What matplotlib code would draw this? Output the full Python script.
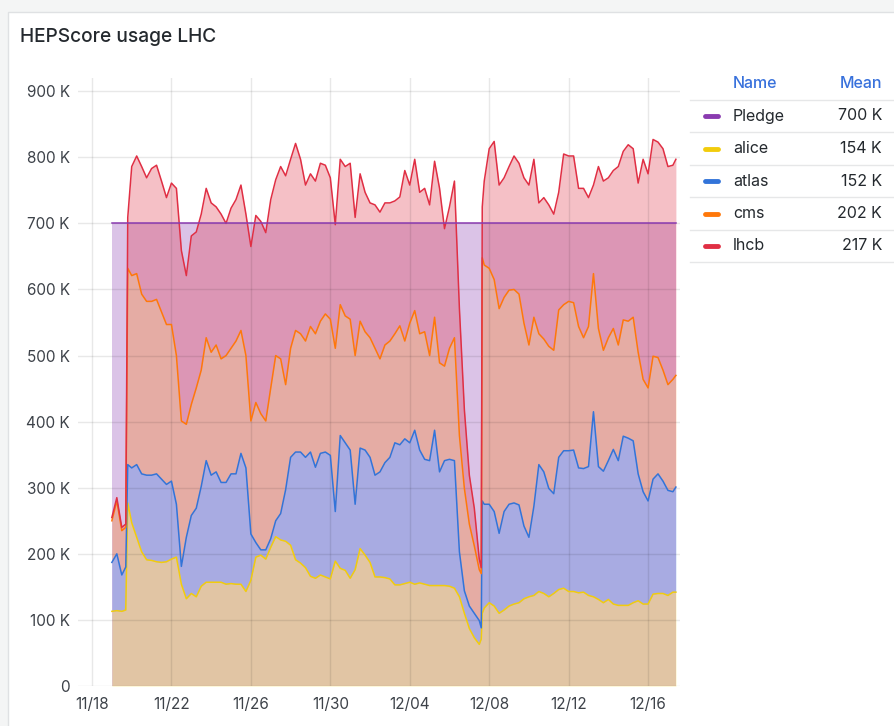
import matplotlib.pyplot as plt
import matplotlib.dates as mdates
import numpy as np
import pandas as pd
from matplotlib.lines import Line2D
from matplotlib.patches import Rectangle

plt.rcParams["font.family"] = ["Inter", "DejaVu Sans"]

W, H = 894, 726

# sample times, in days after 11/18 00:00
day_offset = [
    1.0, 1.25, 1.5, 1.7, 1.8, 2.0, 2.25, 2.5, 2.75, 3.0, 3.25, 3.5, 3.75,
    4.0, 4.25, 4.5, 4.75, 5.0, 5.25, 5.5, 5.75, 6.0, 6.25, 6.5, 6.75,
    7.0, 7.25, 7.5, 7.75, 8.0, 8.25, 8.5, 8.75, 9.0, 9.25, 9.5, 9.75,
    10.0, 10.25, 10.5, 10.75, 11.0, 11.25, 11.5, 11.75, 12.0, 12.25, 12.5, 12.75,
    13.0, 13.25, 13.5, 13.75, 14.0, 14.25, 14.5, 14.75, 15.0, 15.25, 15.5, 15.75,
    16.0, 16.25, 16.5, 16.75, 17.0, 17.25, 17.5, 17.75, 18.0, 18.25, 18.5, 18.75,
    19.0, 19.25, 19.5, 19.6, 19.65, 19.75, 20.0, 20.25, 20.5, 20.75,
    21.0, 21.25, 21.5, 21.75, 22.0, 22.25, 22.5, 22.75, 23.0, 23.25, 23.5, 23.75,
    24.0, 24.25, 24.5, 24.75, 25.0, 25.25, 25.5, 25.75, 26.0, 26.25, 26.5, 26.75,
    27.0, 27.25, 27.5, 27.75, 28.0, 28.25, 28.5, 28.75, 29.0, 29.25, 29.4,
]

# HEPScore per experiment, in thousands
alice = [
    113, 114, 113, 115, 277, 247, 225, 203, 191, 190, 188, 187, 188,
    192, 195, 154, 132, 140, 135, 151, 157, 157, 157, 157, 154,
    155, 154, 154, 143, 160, 195, 198, 192, 210, 226, 221, 219,
    213, 191, 186, 179, 166, 163, 168, 165, 162, 189, 178, 175,
    163, 176, 208, 198, 187, 165, 165, 164, 162, 153, 153, 155,
    157, 154, 156, 154, 152, 152, 152, 152, 151, 148, 135, 110,
    87, 73, 63, 71, 110, 118, 126, 121, 110, 115,
    121, 124, 126, 132, 135, 137, 143, 140, 135, 140, 146, 148,
    143, 143, 141, 142, 137, 135, 131, 126, 131, 124, 122, 122,
    122, 126, 129, 124, 124, 139, 140, 140, 137, 142, 142,
]
atlas = [
    74, 86, 55, 65, 58, 83, 110, 118, 128, 129, 133, 126, 117,
    118, 80, 27, 93, 118, 134, 151, 184, 162, 167, 151, 154,
    166, 167, 198, 187, 70, 22, 8, 14, 13, 24, 40, 78,
    133, 163, 168, 167, 188, 168, 184, 189, 187, 75, 201, 193,
    194, 99, 152, 159, 159, 154, 159, 174, 184, 215, 212, 219,
    211, 233, 201, 189, 189, 235, 172, 189, 192, 193, 68, 34,
    34, 37, 36, 17, 170, 157, 149, 143, 121, 149,
    154, 153, 148, 110, 90, 135, 192, 184, 164, 151, 200, 208,
    213, 214, 189, 187, 195, 280, 201, 199, 210, 234, 219, 256,
    253, 245, 192, 170, 156, 174, 181, 170, 159, 152, 159,
]
cms = [
    63, 80, 67, 60, 297, 291, 289, 272, 263, 263, 264, 253, 242,
    237, 225, 220, 171, 168, 182, 176, 186, 186, 192, 187, 192,
    190, 201, 186, 170, 171, 212, 206, 195, 228, 250, 234, 159,
    165, 184, 179, 176, 190, 202, 200, 209, 206, 247, 198, 192,
    198, 225, 192, 179, 181, 192, 171, 178, 176, 165, 180, 148,
    181, 181, 176, 193, 159, 171, 165, 143, 168, 186, 176, 155,
    124, 102, 77, 82, 368, 362, 357, 351, 340, 324,
    324, 323, 319, 307, 291, 286, 198, 201, 215, 217, 223, 221,
    226, 223, 214, 198, 212, 209, 209, 183, 186, 183, 175, 176,
    177, 187, 184, 170, 171, 186, 176, 168, 160, 170, 169,
]
lhcb = [
    5, 5, 5, 5, 77, 165, 178, 193, 187, 201, 203, 198, 192,
    214, 253, 258, 225, 255, 236, 236, 226, 226, 209, 219, 200,
    212, 214, 220, 214, 264, 283, 291, 285, 285, 266, 291, 316,
    286, 283, 264, 236, 231, 231, 239, 225, 214, 187, 220, 226,
    236, 209, 223, 211, 204, 217, 222, 215, 209, 201, 195, 258,
    209, 229, 214, 217, 228, 236, 264, 208, 214, 237, 192, 119,
    74, 57, 16, 9, 77, 127, 181, 209, 187, 181,
    187, 202, 198, 220, 242, 239, 198, 214, 214, 206, 178, 228,
    220, 222, 209, 226, 195, 134, 245, 256, 242, 239, 270, 255,
    267, 255, 256, 333, 324, 328, 326, 335, 330, 324, 327,
]
pledge = 700

names = ["Pledge", "alice", "atlas", "cms", "lhcb"]
means = ["700 K", "154 K", "152 K", "202 K", "217 K"]
colors = ["#8a3bb0", "#f2cc0c", "#3274d9", "#ff780a", "#e02f44"]
tick_days = ["2023-11-18", "2023-11-22", "2023-11-26", "2023-11-30",
             "2023-12-04", "2023-12-08", "2023-12-12", "2023-12-16"]


def fx(x):
    return x / W


def fy(y):
    return 1 - y / H


start = pd.Timestamp("2023-11-18")
t = (start + pd.to_timedelta(day_offset, unit="D")).to_numpy()

stack = np.cumsum(np.array([alice, atlas, cms, lhcb], dtype=float) * 1000, axis=0)
bases = np.vstack([np.zeros(len(t)), stack[:-1]])

fig = plt.figure(figsize=(W / 100, H / 100), dpi=100, facecolor="#f4f5f5")
fig.patches.append(Rectangle((fx(8), -0.1), 1.2, fy(12) + 0.1, transform=fig.transFigure,
                             facecolor="white", edgecolor="#dfe1e3", lw=1, zorder=-10))

fig.text(fx(20), fy(37), "HEPScore usage LHC", fontsize=13.8, fontweight="medium",
         color="#24292e", va="center", ha="left")

ax = fig.add_axes([fx(78), fy(686), fx(680) - fx(78), fy(78) - fy(686)])
ax.set_facecolor("white")

# pledge area behind the stack
ax.fill_between(t[[0, -1]], 0, pledge * 1000, color=colors[0], alpha=0.3, lw=0, zorder=1)
for i in range(4):
    c = colors[i + 1]
    ax.fill_between(t, bases[i], stack[i], color=c, alpha=0.3, lw=0, zorder=2)
    ax.plot(t, stack[i], color=c, lw=1.1, zorder=3)
ax.plot(t[[0, -1]], [pledge * 1000] * 2, color=colors[0], lw=1.1, zorder=4)

ax.set_ylim(0, 920000)
ax.set_yticks(np.arange(0, 900001, 100000))
ax.yaxis.set_major_formatter(lambda v, p: "0" if v == 0 else f"{int(v / 1000)} K")
x0 = start + pd.Timedelta(days=(78 - 92) / 19.86)
x1 = start + pd.Timedelta(days=(680 - 92) / 19.86)
ax.set_xlim(x0, x1)
ax.set_xticks(pd.to_datetime(tick_days))
ax.xaxis.set_major_formatter(mdates.DateFormatter("%m/%d"))

ax.grid(True, color="black", alpha=0.09, lw=1)
ax.set_axisbelow(False)
for s in ax.spines.values():
    s.set_visible(False)
ax.tick_params(length=0, labelsize=11, labelcolor="#3d4249")
ax.tick_params(axis="y", pad=6)
ax.tick_params(axis="x", pad=8)

# legend table
hdr = "#3871dc"
fig.text(fx(733), fy(83), "Name", fontsize=11.5, color=hdr, fontweight="medium", va="center")
fig.text(fx(882), fy(83), "Mean", fontsize=11.5, color=hdr, fontweight="medium",
         va="center", ha="right")
for yy in [100, 132, 165, 197, 230, 262]:
    fig.add_artist(Line2D([fx(690), fx(894)], [fy(yy)] * 2, color="#e6e7e8", lw=1))
for i, (n, m) in enumerate(zip(names, means)):
    yy = 116 + i * 32.5
    fig.add_artist(Line2D([fx(705), fx(718)], [fy(yy)] * 2, color=colors[i], lw=3.5,
                          solid_capstyle="round"))
    fig.text(fx(733), fy(yy), n, fontsize=11.5, color="#24292e", va="center")
    fig.text(fx(882), fy(yy), m, fontsize=11.5, color="#24292e", va="center", ha="right")

fig.savefig("out.png", dpi=100, facecolor=fig.get_facecolor())
